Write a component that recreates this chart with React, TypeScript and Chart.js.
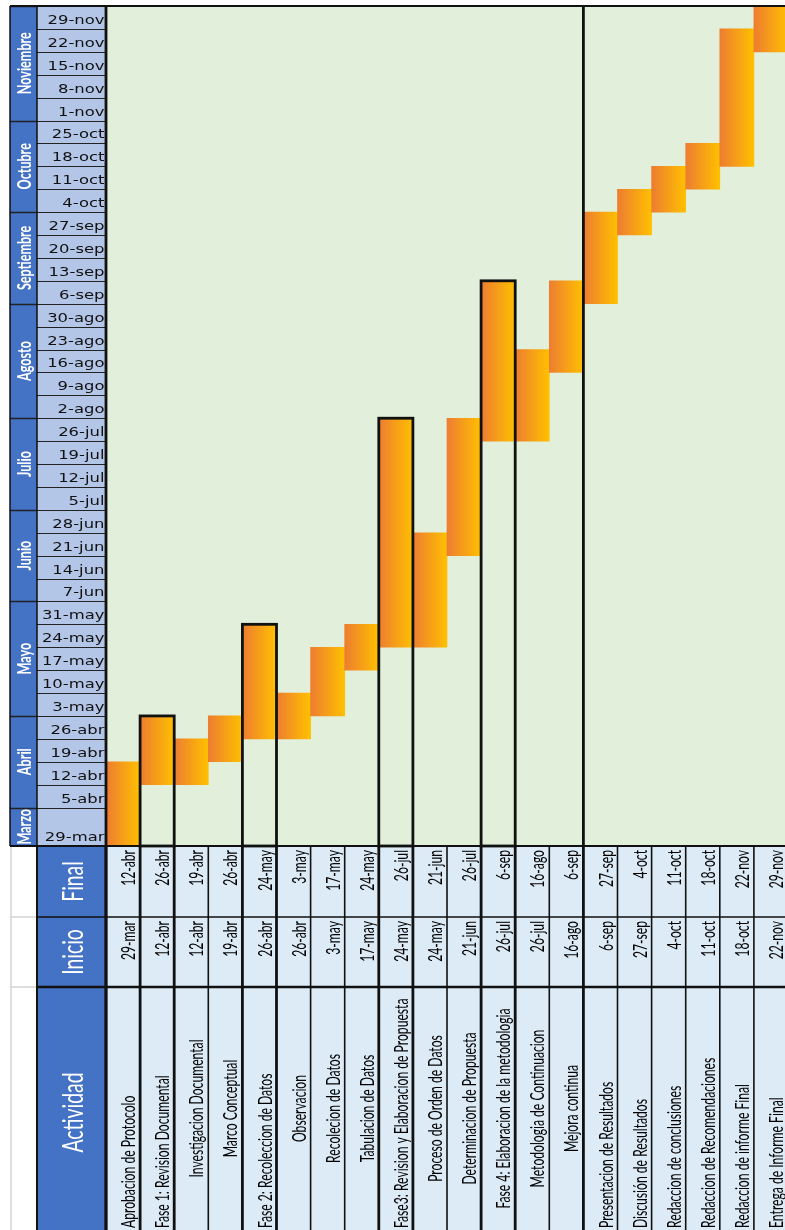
import React, { useEffect, useRef } from "react";
import { Chart, registerables } from "chart.js";

Chart.register(...registerables);

// ---------- data ----------
const weeks = [
  "29-mar", "5-abr", "12-abr", "19-abr", "26-abr",
  "3-may", "10-may", "17-may", "24-may", "31-may",
  "7-jun", "14-jun", "21-jun", "28-jun",
  "5-jul", "12-jul", "19-jul", "26-jul",
  "2-ago", "9-ago", "16-ago", "23-ago", "30-ago",
  "6-sep", "13-sep", "20-sep", "27-sep",
  "4-oct", "11-oct", "18-oct", "25-oct",
  "1-nov", "8-nov", "15-nov", "22-nov", "29-nov",
];

const months = ["Marzo", "Abril", "Mayo", "Junio", "Julio", "Agosto", "Septiembre", "Octubre", "Noviembre"];
const monthWeekCounts = [1, 4, 5, 4, 4, 5, 4, 4, 5];

const activities = [
  "Aprobacion de Protocolo",
  "Fase 1: Revision Documental",
  "Investigacion Documental",
  "Marco Conceptual",
  "Fase 2: Recoleccion de Datos",
  "Observacion",
  "Recolecion de Datos",
  "Tabulacion de Datos",
  "Fase3: Revision y Elaboracion de Propuesta",
  "Proceso de Orden de Datos",
  "Determinacion de Propuesta",
  "Fase 4: Elaboracion de la metodologia",
  "Metodologia de Continuacion",
  "Mejora continua",
  "Presentacion de Resultados",
  "Discusión de Resultados",
  "Redaccion de conclusiones",
  "Redaccion de Recomendaciones",
  "Redaccion de informe Final",
  "Entrega de Informe Final",
];

const startDates = [
  "29-mar", "12-abr", "12-abr", "19-abr", "26-abr", "26-abr", "3-may", "17-may", "24-may", "24-may",
  "21-jun", "26-jul", "26-jul", "16-ago", "6-sep", "27-sep", "4-oct", "11-oct", "18-oct", "22-nov",
];

const endDates = [
  "12-abr", "26-abr", "19-abr", "26-abr", "24-may", "3-may", "17-may", "24-may", "26-jul", "21-jun",
  "26-jul", "6-sep", "16-ago", "6-sep", "27-sep", "4-oct", "11-oct", "18-oct", "22-nov", "29-nov",
];

const headerFinal = "Final";
const headerInicio = "Inicio";
const headerActividad = "Actividad";

// ---------- styles ----------
const Y_MIN = -0.68; // the first week row is taller
const CENTERED = new Set([2, 3, 5, 6, 7, 9, 10, 11, 12, 13]);
const GROUP_BREAK = 14;
const CELL_FONT = '14px Lato, "Open Sans", sans-serif';
const HEAD_FONT = '24px Lato, "Open Sans", sans-serif';
const MONTH_FONT = 'bold 13px Lato, "Open Sans", sans-serif';
const WEEK_FONT = '12px "DejaVu Sans", Verdana, sans-serif';

export default function App() {
  const ref = useRef<HTMLCanvasElement>(null);

  useEffect(() => {
    const canvas = ref.current as HTMLCanvasElement;
    const wIdx = (w: string) => weeks.indexOf(w);
    const rowBottom = (i: number) => (i === 0 ? Y_MIN : i);
    const barData = activities.map((_, i) => [rowBottom(wIdx(startDates[i])), wIdx(endDates[i]) + 1]);
    const isPhase = (i: number) => activities[i].startsWith("Fase");

    const line = (ctx: any, x1: number, y1: number, x2: number, y2: number, w: number, c: string) => {
      ctx.save();
      ctx.strokeStyle = c;
      ctx.lineWidth = w;
      ctx.beginPath();
      ctx.moveTo(x1, y1);
      ctx.lineTo(x2, y2);
      ctx.stroke();
      ctx.restore();
    };

    const rotText = (ctx: any, text: string, x: number, y: number, font: string, color: string,
      along: number, height: number, align: CanvasTextAlign) => {
      ctx.save();
      ctx.translate(x, y);
      ctx.rotate(-Math.PI / 2);
      ctx.scale(along, height);
      ctx.font = font;
      ctx.fillStyle = color;
      ctx.textAlign = align;
      ctx.textBaseline = "alphabetic";
      ctx.fillText(text, 0, 0);
      ctx.restore();
    };

    const measure = (ctx: any, font: string, text: string) => {
      ctx.save();
      ctx.font = font;
      const w = ctx.measureText(text).width;
      ctx.restore();
      return w;
    };

    const decor = {
      id: "ganttDecor",
      beforeDraw(chart: any) {
        const { ctx, chartArea: ca } = chart;
        ctx.save();
        ctx.fillStyle = "#ffffff";
        ctx.fillRect(0, 0, chart.width, chart.height);
        ctx.fillStyle = "#E2EFDA";
        ctx.fillRect(ca.left, ca.top, ca.right - ca.left, ca.bottom - ca.top);
        ctx.restore();
      },
      afterDatasetsDraw(chart: any) {
        const { ctx, chartArea: ca } = chart;
        const ys = chart.scales.y;
        const xs = chart.scales.x;
        const H = chart.height;
        const W = chart.width;
        const colW = (ca.right - ca.left) / activities.length;
        const colL = (i: number) => xs.getPixelForValue(i) - colW / 2;
        const yPx = (v: number) => ys.getPixelForValue(v);
        const top = ca.top;
        const bottom = ca.bottom;
        const MONTH_L = 10;
        const WEEK_L = 37;
        const SPLIT1 = 917;
        const SPLIT2 = 987;
        const dark = "#111111";

        // ----- left columns (months & weeks) -----
        ctx.save();
        ctx.fillStyle = "#B4C6E7";
        ctx.fillRect(WEEK_L, top, ca.left - WEEK_L, bottom - top);
        ctx.fillStyle = "#4472C4";
        ctx.fillRect(MONTH_L, top, WEEK_L - MONTH_L, bottom - top);
        ctx.restore();

        for (let k = 1; k < weeks.length; k++) {
          const y = Math.round(yPx(k)) + 0.5;
          line(ctx, WEEK_L, y, ca.left, y, 1, "#222");
        }

        // week labels
        const weekScale = 57 / measure(ctx, WEEK_FONT, "29-nov");
        weeks.forEach((w, k) => {
          const base = yPx(rowBottom(k)) - 5;
          ctx.save();
          ctx.translate(ca.left - 1.5, base);
          ctx.scale(weekScale, 1);
          ctx.font = WEEK_FONT;
          ctx.fillStyle = "#111";
          ctx.textAlign = "right";
          ctx.textBaseline = "alphabetic";
          ctx.fillText(w, 0, 0);
          ctx.restore();
        });

        // months
        const monthAlong = 62 / measure(ctx, MONTH_FONT, "Noviembre");
        let acc = 0;
        months.forEach((m, mi) => {
          const first = acc;
          acc += monthWeekCounts[mi];
          const last = acc - 1;
          const yb = yPx(rowBottom(first));
          const yt = yPx(last + 1);
          line(ctx, MONTH_L, Math.round(yt) + 0.5, WEEK_L, Math.round(yt) + 0.5, 1.5, "#222");
          rotText(ctx, m, 31, (yb + yt) / 2, MONTH_FONT, "#ffffff", monthAlong, 1.45, "center");
        });

        // ----- table -----
        ctx.save();
        ctx.fillStyle = "#4472C4";
        ctx.fillRect(WEEK_L, bottom, ca.left - WEEK_L, H - bottom);
        ctx.fillStyle = "#DDEBF7";
        ctx.fillRect(ca.left, bottom, W - ca.left, H - bottom);
        ctx.restore();

        // light gridlines in the empty area
        line(ctx, MONTH_L + 1, bottom, MONTH_L + 1, H, 1.5, "#D4D4D4");
        line(ctx, MONTH_L, SPLIT1, WEEK_L, SPLIT1, 1.5, "#D4D4D4");
        line(ctx, MONTH_L, SPLIT2, WEEK_L, SPLIT2, 1.5, "#D4D4D4");

        // headers
        const headAlong = 80 / measure(ctx, HEAD_FONT, headerActividad);
        const headX = (WEEK_L + ca.left) / 2 + 11;
        rotText(ctx, headerFinal, headX, (bottom + SPLIT1) / 2, HEAD_FONT, "#ffffff", headAlong, 1.18, "center");
        rotText(ctx, headerInicio, headX, (SPLIT1 + SPLIT2) / 2, HEAD_FONT, "#ffffff", headAlong, 1.18, "center");
        rotText(ctx, headerActividad, headX, (SPLIT2 + H) / 2 + 4, HEAD_FONT, "#ffffff", headAlong, 1.18, "center");

        // cell texts
        const cellAlong = 138 / measure(ctx, CELL_FONT, "Investigacion Documental");
        activities.forEach((a, i) => {
          const bx = colL(i) + colW - 5;
          rotText(ctx, endDates[i], bx, bottom + 4, CELL_FONT, "#000", cellAlong, 1.35, "right");
          rotText(ctx, startDates[i], bx, SPLIT1 + 4, CELL_FONT, "#000", cellAlong, 1.35, "right");
          if (CENTERED.has(i)) {
            rotText(ctx, a, bx, (SPLIT2 + H) / 2, CELL_FONT, "#000", cellAlong, 1.35, "center");
          } else {
            rotText(ctx, a, bx, H - 2, CELL_FONT, "#000", cellAlong, 1.35, "left");
          }
        });

        // table lines
        line(ctx, WEEK_L, SPLIT1, W, SPLIT1, 1.5, dark);
        line(ctx, WEEK_L, SPLIT2, W, SPLIT2, 2.5, dark);
        line(ctx, WEEK_L, bottom, WEEK_L, H, 2, dark);
        for (let b = 0; b <= activities.length; b++) {
          const x = colL(b);
          const thick = b === 0 || b === GROUP_BREAK || (b < activities.length && isPhase(b)) || (b > 0 && isPhase(b - 1));
          line(ctx, x, bottom, x, H, thick ? 2.8 : 1.6, dark);
        }

        // ----- gantt frame -----
        line(ctx, MONTH_L, top, W, top, 2, dark);
        line(ctx, MONTH_L, bottom, W, bottom, 2, dark);
        line(ctx, MONTH_L, top, MONTH_L, bottom, 1.5, dark);
        line(ctx, WEEK_L, top, WEEK_L, bottom, 1.5, dark);
        line(ctx, ca.left, top, ca.left, H, 2.8, dark);
        line(ctx, colL(GROUP_BREAK), top, colL(GROUP_BREAK), bottom, 2.8, dark);

        // phase outlines
        activities.forEach((_, i) => {
          if (!isPhase(i)) return;
          const yt = yPx(wIdx(endDates[i]) + 1);
          ctx.save();
          ctx.strokeStyle = dark;
          ctx.lineWidth = 2.8;
          ctx.strokeRect(colL(i), yt, colW, bottom - yt);
          ctx.restore();
        });
      },
    };

    const chart = new Chart(canvas, {
      type: "bar",
      data: {
        labels: activities,
        datasets: [
          {
            data: barData as any,
            borderWidth: 0,
            barPercentage: 1,
            categoryPercentage: 1,
            backgroundColor: (c: any) => {
              const ch = c.chart;
              const xs = ch.scales && ch.scales.x;
              if (!xs || c.type !== "data" || !ch.chartArea) return "#F7A01C";
              const half = (ch.chartArea.right - ch.chartArea.left) / activities.length / 2;
              const cx = xs.getPixelForValue(c.dataIndex);
              const g = ch.ctx.createLinearGradient(cx - half, 0, cx + half, 0);
              g.addColorStop(0, "#ED7D31");
              g.addColorStop(1, "#FFC000");
              return g;
            },
          },
        ],
      },
      options: {
        responsive: false,
        animation: false,
        devicePixelRatio: 1,
        layout: { padding: { left: 106, top: 6, right: 2, bottom: 384 } },
        plugins: { legend: { display: false }, tooltip: { enabled: false } },
        scales: {
          x: { display: false },
          y: { display: false, type: "linear", min: Y_MIN, max: weeks.length },
        },
      },
      plugins: [decor],
    });

    return () => chart.destroy();
  }, []);

  return (
    <div style={{ position: "absolute", left: 0, top: 0, width: 785, height: 1230, overflow: "hidden", background: "#fff" }}>
      <canvas ref={ref} width={790} height={1230} style={{ display: "block" }} />
    </div>
  );
}
